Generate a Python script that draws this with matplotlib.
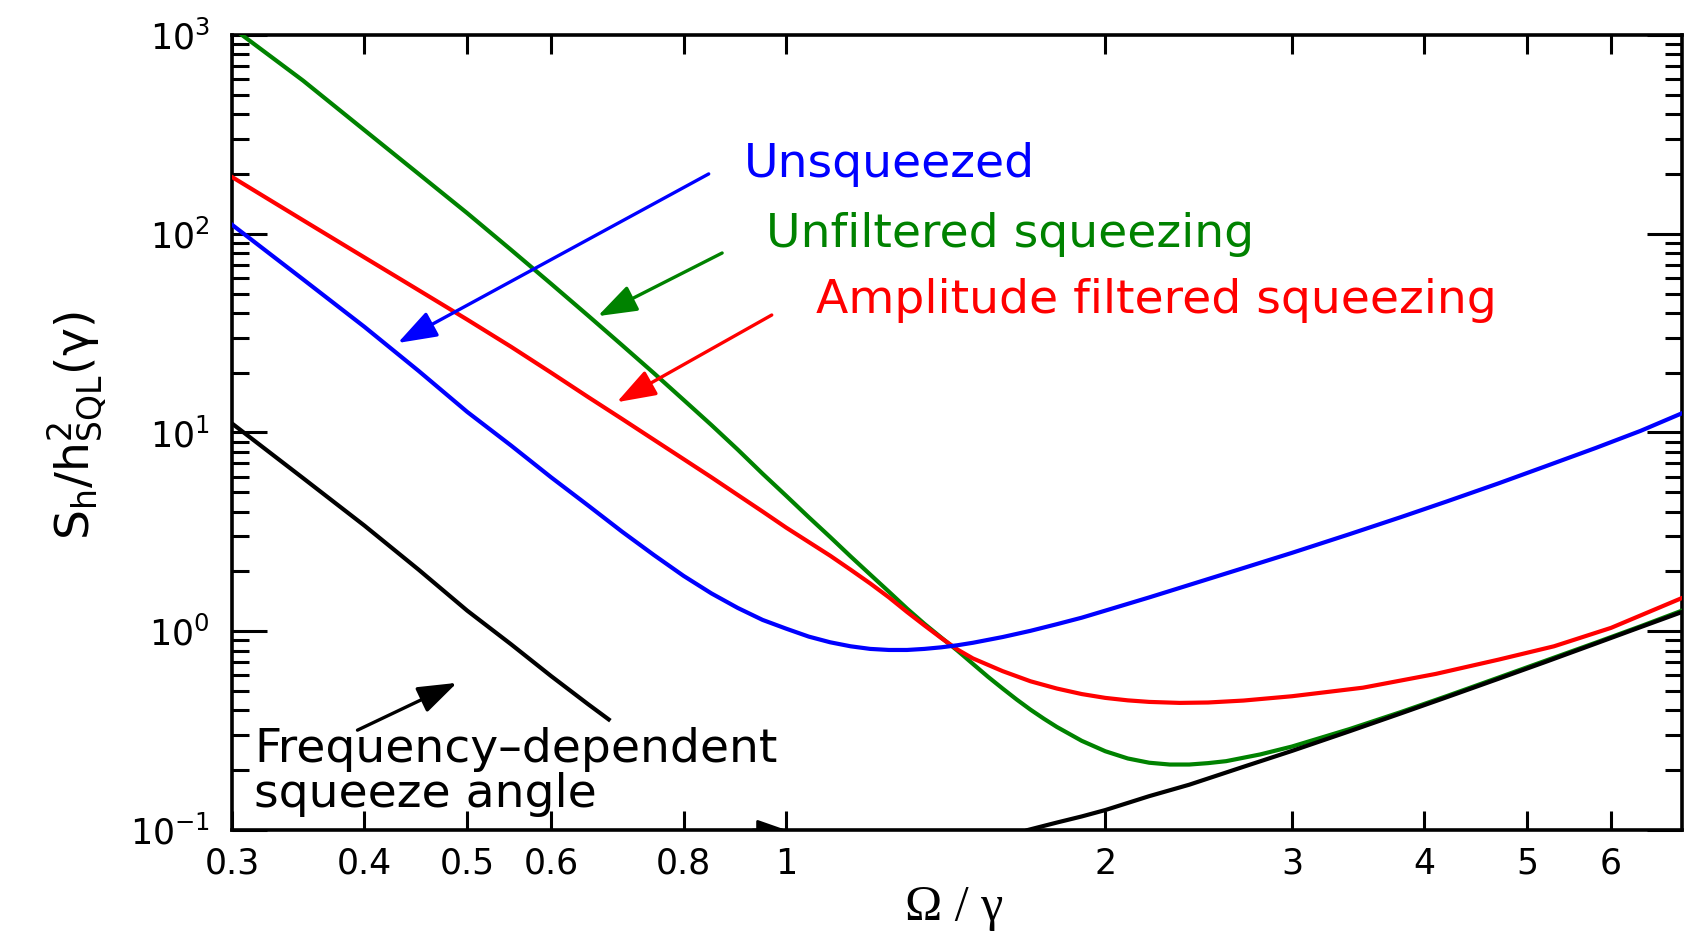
import matplotlib
matplotlib.use('Agg')
import matplotlib.pyplot as plt
from matplotlib.ticker import LogLocator, NullLocator
import numpy as np

matplotlib.rcParams.update({'font.family': 'DejaVu Sans', 'font.size': 25,
                            'mathtext.fontset': 'dejavusans'})

# curves (x = Omega/gamma, y = S_h / h_SQL^2(gamma))
blue_x = [0.3, 0.35, 0.4, 0.45, 0.5, 0.55, 0.6, 0.65, 0.7, 0.75, 0.8, 0.85, 0.9, 0.95,
          1.0, 1.05, 1.1, 1.15, 1.2, 1.25, 1.3, 1.35, 1.4, 1.45, 1.5, 1.6, 1.7, 1.8,
          1.9, 2.0, 2.2, 2.4, 2.7, 3.0, 3.4, 3.8, 4.2, 4.7, 5.2, 5.8, 6.4, 7.0]
blue_y = [111, 59, 34, 20.4, 12.7, 8.6, 5.95, 4.3, 3.17, 2.42, 1.9, 1.55, 1.31, 1.14,
          1.03, 0.94, 0.88, 0.84, 0.815, 0.805, 0.805, 0.815, 0.83, 0.85, 0.875, 0.935,
          1.005, 1.085, 1.17, 1.27, 1.48, 1.71, 2.08, 2.48, 3.08, 3.75, 4.5, 5.55, 6.75,
          8.35, 10.2, 12.5]

red_x = [0.3, 0.35, 0.4, 0.45, 0.5, 0.55, 0.6, 0.65, 0.7, 0.75, 0.8, 0.85, 0.9, 0.95,
         1.0, 1.1, 1.15, 1.2, 1.25, 1.3, 1.35, 1.4, 1.45, 1.5, 1.6, 1.7, 1.8, 1.9,
         2.0, 2.1, 2.2, 2.35, 2.5, 2.7, 3.0, 3.5, 4.1, 4.7, 5.3, 6.0, 7.0]
red_y = [193, 117, 76, 52, 37, 27, 20.0, 15.1, 11.7, 9.2, 7.35, 5.95, 4.85, 4.0,
         3.32, 2.4, 2.04, 1.74, 1.48, 1.25, 1.07, 0.925, 0.81, 0.73, 0.63, 0.56, 0.515,
         0.483, 0.462, 0.449, 0.441, 0.436, 0.438, 0.448, 0.471, 0.52, 0.61, 0.72, 0.84,
         1.04, 1.47]

green_x = [0.3, 0.35, 0.4, 0.45, 0.5, 0.55, 0.6, 0.65, 0.7, 0.75, 0.8, 0.85, 0.9, 0.95,
           1.0, 1.05, 1.1, 1.15, 1.2, 1.25, 1.3, 1.35, 1.4, 1.45, 1.5, 1.55, 1.6, 1.65,
           1.7, 1.75, 1.8, 1.9, 2.0, 2.1, 2.2, 2.3, 2.4, 2.5, 2.6, 2.8, 3.0, 3.4, 3.8,
           4.2, 4.7, 5.2, 5.8, 6.4, 7.0]
green_y = [1090, 590, 332, 200, 127, 83, 56, 38.8, 27.5, 19.9, 14.6, 10.9, 8.2, 6.2,
           4.8, 3.75, 2.98, 2.38, 1.93, 1.58, 1.30, 1.09, 0.93, 0.80, 0.685, 0.59, 0.515,
           0.453, 0.403, 0.363, 0.33, 0.281, 0.249, 0.229, 0.218, 0.2135, 0.2135, 0.217,
           0.222, 0.24, 0.263, 0.322, 0.392, 0.472, 0.585, 0.71, 0.875, 1.06, 1.27]

# frequency dependent squeeze angle (goes below the frame between the two parts)
black_left_x = [0.3, 0.35, 0.4, 0.45, 0.5, 0.55, 0.6, 0.65, 0.68]
black_left_y = [11.1, 5.9, 3.4, 2.04, 1.27, 0.86, 0.595, 0.43, 0.36]
black_right_x = [1.69, 1.8, 1.9, 2.0, 2.2, 2.4, 2.7, 3.0, 3.4, 3.8, 4.2, 4.7, 5.2,
                 5.8, 6.4, 7.0]
black_right_y = [0.1, 0.109, 0.117, 0.126, 0.148, 0.169, 0.208, 0.25, 0.314, 0.386,
                 0.466, 0.577, 0.70, 0.866, 1.05, 1.25]

xticks = [0.3, 0.4, 0.5, 0.6, 0.8, 1, 2, 3, 4, 5, 6]
xticklabels = ['0.3', '0.4', '0.5', '0.6', '0.8', '1', '2', '3', '4', '5', '6']

green = '#008200'

fig = plt.figure(figsize=(16.91, 9.33), dpi=100)
ax = fig.add_axes([0.1372, 0.1104, 0.8575, 0.8521])
ax.set_xscale('log')
ax.set_yscale('log')

ax.plot(green_x, green_y, color=green, lw=3, zorder=3)
ax.plot(red_x, red_y, color='red', lw=3, zorder=3)
ax.plot(blue_x, blue_y, color='blue', lw=3, zorder=3)
ax.plot(black_left_x, black_left_y, color='black', lw=3, zorder=4)
ax.plot(black_right_x, black_right_y, color='black', lw=3, zorder=4)

ax.set_xlim(0.3, 7.0)
ax.set_ylim(0.1, 1000)

ax.set_xticks(xticks)
ax.set_xticklabels(xticklabels)
ax.xaxis.set_minor_locator(NullLocator())
ax.yaxis.set_major_locator(LogLocator(base=10, numticks=10))
ax.yaxis.set_minor_locator(LogLocator(base=10, subs=np.arange(2, 10), numticks=10))

ax.tick_params(axis='x', which='major', direction='in', length=14, width=2.2,
               top=True, pad=12, labelsize=25)
ax.tick_params(axis='y', which='major', direction='in', length=25, width=2.2,
               right=True, pad=16, labelsize=25)
ax.tick_params(axis='y', which='minor', direction='in', length=12, width=2.2,
               right=True)
for s in ax.spines.values():
    s.set_linewidth(2.6)

ax.set_xlabel('Ω / γ', fontfamily='Liberation Serif', fontsize=36)
ax.xaxis.set_label_coords(0.498, -0.068)
ax.set_ylabel(r'$\mathrm{S_h/h^2_{SQL}(\gamma)}$', fontsize=34)
ax.yaxis.set_label_coords(-0.085, 0.508)

# labels and arrows
head = '-|>,head_length=0.8,head_width=0.28'
ax.text(0.912, 224, 'Unsqueezed', color='blue', fontsize=34, va='center')
ax.text(0.957, 98.6, 'Unfiltered squeezing', color=green, fontsize=34, va='center')
ax.text(1.067, 46.4, 'Amplitude filtered squeezing', color='red', fontsize=34, va='center')
ax.text(0.315, 0.196, 'Frequency\u2013dependent\nsqueeze angle', color='black',
        fontsize=34, va='center', linespacing=1.0)

ax.annotate('', xy=(0.430, 28.2), xytext=(0.845, 200),
            arrowprops=dict(arrowstyle=head, color='blue', lw=2.4, mutation_scale=30,
                            shrinkA=0, shrinkB=0), zorder=5)
ax.annotate('', xy=(0.664, 38.5), xytext=(0.870, 80),
            arrowprops=dict(arrowstyle=head, color=green, lw=2.4, mutation_scale=30,
                            shrinkA=0, shrinkB=0), zorder=5)
ax.annotate('', xy=(0.692, 14.2), xytext=(0.969, 39),
            arrowprops=dict(arrowstyle=head, color='red', lw=2.4, mutation_scale=30,
                            shrinkA=0, shrinkB=0), zorder=5)
ax.annotate('', xy=(0.489, 0.55), xytext=(0.394, 0.318),
            arrowprops=dict(arrowstyle=head, color='black', lw=2.4, mutation_scale=30,
                            shrinkA=0, shrinkB=0), zorder=5)
# small arrow head sitting on the bottom axis near 1
a = ax.annotate('', xy=(1.0, 0.1), xytext=(0.93, 0.1),
                arrowprops=dict(arrowstyle=head, color='black', lw=2, mutation_scale=22,
                                shrinkA=0, shrinkB=0), zorder=2)
a.arrow_patch.set_clip_box(ax.bbox)
a.arrow_patch.set_clip_on(True)

plt.savefig('out.png', dpi=100)
